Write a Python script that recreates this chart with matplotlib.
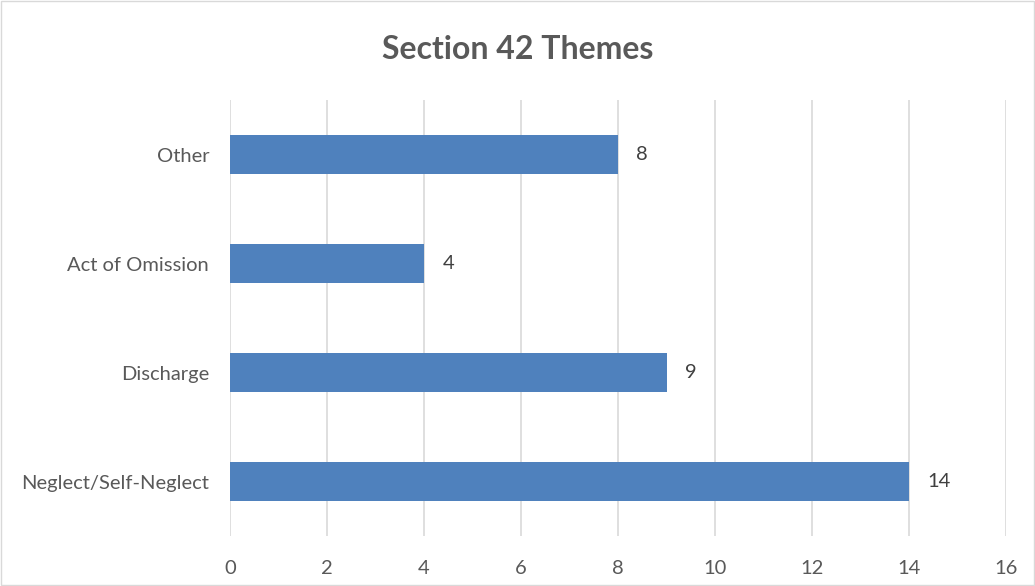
import matplotlib.pyplot as plt
from matplotlib.patches import Rectangle

plt.rcParams['font.family'] = ['Lato', 'DejaVu Sans']

categories = ["Neglect/Self-Neglect", "Discharge", "Act of Omission", "Other"]
counts = [14, 9, 4, 8]
xticks = [0, 2, 4, 6, 8, 10, 12, 14, 16]

text_col = "#595959"
bar_col = "#4F81BD"
grid_col = "#D9D9D9"

fig = plt.figure(figsize=(10.35, 5.86), dpi=100)
ax = fig.add_axes([0.2222, 0.0853, 0.7498, 0.744])

pos = range(len(categories))
bars = ax.barh(pos, counts, height=0.35, color=bar_col, zorder=3)
for p, v in zip(pos, counts):
    ax.text(v + 0.38, p, str(v), va="center", ha="left", fontsize=14.5, color="#404040")

ax.set_xlim(0, 16)
ax.set_ylim(-0.5, len(categories) - 0.5)
ax.set_xticks(xticks)
ax.set_xticklabels([str(t) for t in xticks])
ax.set_yticks(list(pos))
ax.set_yticklabels(categories)
ax.tick_params(axis="both", length=0, labelsize=14.5, labelcolor=text_col)
ax.tick_params(axis="x", pad=17)
ax.tick_params(axis="y", pad=15)
ax.xaxis.grid(True, color=grid_col, linewidth=1.2, zorder=0)
for s in ax.spines.values():
    s.set_visible(False)

fig.text(0.5, 0.915, "Section 42 Themes", ha="center", va="center",
         fontsize=23, fontweight="bold", color=text_col)

fig.patches.append(Rectangle((0.001, 0.001), 0.998, 0.998, transform=fig.transFigure,
                             fill=False, edgecolor="#D9D9D9", linewidth=1))

fig.savefig("out.png", dpi=100)
